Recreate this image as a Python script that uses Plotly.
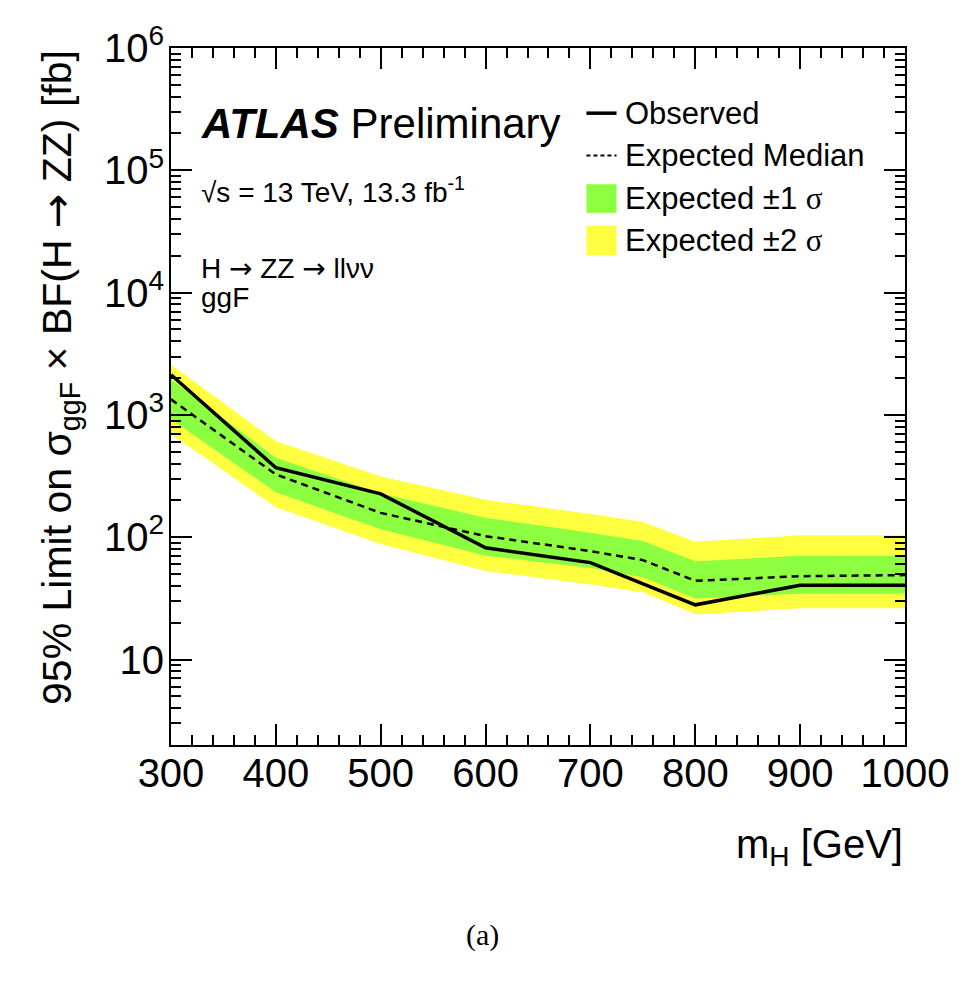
import plotly.graph_objects as go

# Values (m_H in GeV, limits in fb)
mass = [300, 400, 500, 600, 700, 750, 800, 900, 1000]
observed = [2130, 370, 226, 82, 62, 42, 28, 40.5, 40.5]
expected = [1340, 326, 158, 102, 77, 65, 44, 48, 49]
sigma1_up = [1950, 447, 228, 144, 109, 93, 63.5, 70.6, 70.6]
sigma1_dn = [923, 233, 116, 70.6, 56, 47, 31.5, 34.6, 34.6]
sigma2_up = [2566, 610, 313, 202, 155, 133, 92, 103.6, 103.6]
sigma2_dn = [698, 176, 88, 53, 41, 35.5, 23.4, 26.2, 26.2]

y_tickvals = [10, 100, 1000, 1e4, 1e5, 1e6]
y_ticktext = ["10", "10<sup>2</sup>", "10<sup>3</sup>", "10<sup>4</sup>",
              "10<sup>5</sup>", "10<sup>6</sup>"]

YELLOW = "#ffff40"
GREEN = "#8cff40"
FONT = "Liberation Sans, Arial, Helvetica, sans-serif"
SIG = '<span style="font-family:Liberation Serif">σ</span>'
ARR = '<span style="font-family:DejaVu Sans">→</span>'

fig = go.Figure()

# 2 sigma band (closed polygon: upper edge, then lower edge backwards)
fig.add_trace(go.Scatter(
    x=mass + mass[::-1], y=sigma2_up + sigma2_dn[::-1],
    fill="toself", fillcolor=YELLOW, line=dict(width=0),
    mode="lines", hoverinfo="skip",
))
# 1 sigma band
fig.add_trace(go.Scatter(
    x=mass + mass[::-1], y=sigma1_up + sigma1_dn[::-1],
    fill="toself", fillcolor=GREEN, line=dict(width=0),
    mode="lines", hoverinfo="skip",
))
fig.add_trace(go.Scatter(
    x=mass, y=expected, mode="lines",
    line=dict(color="black", width=2.5, dash="7px,5px"),
))
fig.add_trace(go.Scatter(
    x=mass, y=observed, mode="lines",
    line=dict(color="black", width=3.5),
))

fig.update_layout(
    width=966, height=983,
    margin=dict(l=163, r=69, t=31, b=246),
    paper_bgcolor="white", plot_bgcolor="white",
    font=dict(family=FONT, size=30, color="black"),
    showlegend=False,
)

fig.update_xaxes(
    range=[300, 1000], dtick=100, tick0=300,
    showline=True, linecolor="black", linewidth=2, mirror="ticks",
    ticks="inside", ticklen=21, tickwidth=2, tickcolor="black",
    minor=dict(dtick=20, ticks="inside", ticklen=10, tickwidth=2, tickcolor="black"),
    showgrid=False, zeroline=False,
    tickfont=dict(size=40), ticklabelstandoff=-8,
)

fig.update_yaxes(
    type="log", range=[0.301, 6],
    tickvals=y_tickvals, ticktext=y_ticktext,
    showline=True, linecolor="black", linewidth=2, mirror="ticks",
    ticks="inside", ticklen=21, tickwidth=2, tickcolor="black",
    minor=dict(dtick="D1", ticks="inside", ticklen=10, tickwidth=2, tickcolor="black"),
    showgrid=False, zeroline=False,
    tickfont=dict(size=40), ticklabelstandoff=-3,
)

# hand-made legend (ROOT style boxes)
lx0, lx1, ltext = 0.566, 0.607, 0.616
fig.add_shape(type="line", xref="paper", yref="paper",
              x0=lx0, x1=lx1, y0=0.9065, y1=0.9065,
              line=dict(color="black", width=3.5))
fig.add_shape(type="line", xref="paper", yref="paper",
              x0=lx0, x1=lx1, y0=0.8456, y1=0.8456,
              line=dict(color="black", width=2, dash="4px,3px"))
fig.add_shape(type="rect", xref="paper", yref="paper",
              x0=lx0, x1=lx1, y0=0.7635, y1=0.8045,
              fillcolor=GREEN, line=dict(width=0))
fig.add_shape(type="rect", xref="paper", yref="paper",
              x0=lx0, x1=lx1, y0=0.7025, y1=0.745,
              fillcolor=YELLOW, line=dict(width=0))
legend_text = ["Observed", "Expected Median",
               "Expected ±1 " + SIG, "Expected ±2 " + SIG]
legend_y = [0.9065, 0.8456, 0.784, 0.724]
for t, yy in zip(legend_text, legend_y):
    fig.add_annotation(x=ltext, y=yy, xref="paper", yref="paper",
                       xanchor="left", yanchor="middle", showarrow=False,
                       text=t, font=dict(size=31))

# ATLAS label block
fig.add_annotation(x=0.038, y=0.892, xref="paper", yref="paper",
                   xanchor="left", yanchor="middle", showarrow=False,
                   text="<b><i>ATLAS</i></b> Preliminary", font=dict(size=42))
fig.add_annotation(x=0.038, y=0.796, xref="paper", yref="paper",
                   xanchor="left", yanchor="middle", showarrow=False,
                   text="√s = 13 TeV, 13.3 fb<sup>-1</sup>", font=dict(size=28))
fig.add_annotation(x=0.038, y=0.684, xref="paper", yref="paper",
                   xanchor="left", yanchor="middle", showarrow=False,
                   text="H " + ARR + " ZZ " + ARR + " llνν", font=dict(size=28))
fig.add_annotation(x=0.038, y=0.642, xref="paper", yref="paper",
                   xanchor="left", yanchor="middle", showarrow=False,
                   text="ggF", font=dict(size=28))

# axis titles
fig.add_annotation(x=1.0, y=-0.146, xref="paper", yref="paper",
                   xanchor="right", yanchor="middle", showarrow=False,
                   text="m<sub>H</sub> [GeV]", font=dict(size=40))
fig.add_annotation(x=-0.152, y=1.0, xref="paper", yref="paper",
                   xanchor="center", yanchor="top", showarrow=False,
                   textangle=-90,
                   text="95% Limit on σ<sub>ggF</sub> × BF(H " + ARR + " ZZ) [fb]",
                   font=dict(size=41))

# caption
fig.add_annotation(x=0.424, y=-0.273, xref="paper", yref="paper",
                   xanchor="center", yanchor="middle", showarrow=False,
                   text="(a)", font=dict(size=30, family="Liberation Serif, Times New Roman, serif"))

fig.write_html("out.html")
